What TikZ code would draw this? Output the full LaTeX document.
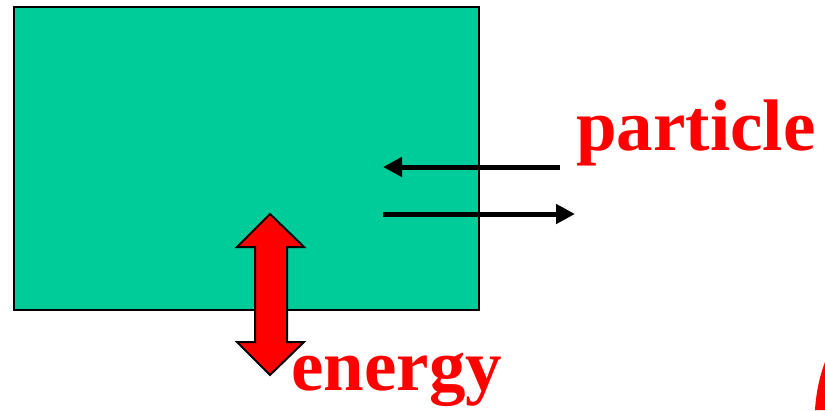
\documentclass[tikz,border=0pt]{standalone}
\usepackage{fontspec}
\setmainfont{Liberation Serif}
\usetikzlibrary{arrows.meta}
\definecolor{boxgreen}{HTML}{00CC99}
\definecolor{labelred}{HTML}{FF0000}
\begin{document}
\begin{tikzpicture}[x=1pt,y=-1pt,
  label text/.style={font=\fontsize{73}{73}\selectfont\bfseries,text=labelred,inner sep=0pt,anchor=base west},
  flow/.style={line width=5pt,-{Triangle[length=19pt,width=19pt]}}]
\useasboundingbox (0,0) rectangle (825,410);
% the body
\draw[fill=boxgreen,line width=2pt] (14,7) rectangle (479,310);
% particle exchange
\coordinate (pin) at (560,167);
\coordinate (pinend) at (383,167);
\coordinate (pout) at (383,214);
\coordinate (poutend) at (575,214);
\draw[flow] (pin) -- (pinend);
\draw[flow] (pout) -- (poutend);
\node[label text] (particle) at (576,150) {particle};
% energy exchange
\draw[fill=labelred,line width=2pt,line join=miter]
  (270,214) -- (304,247) -- (287,247) -- (287,342) -- (304,342) -- (270,375)
  -- (237,342) -- (255,342) -- (255,247) -- (237,247) -- cycle;
\node[label text] (energy) at (291,390) {energy};
% cut-off glyph at the edge
\fill[labelred] (825,362) .. controls (819,378) and (816,394) .. (815,410) -- (825,410) -- cycle;
\end{tikzpicture}
\end{document}
